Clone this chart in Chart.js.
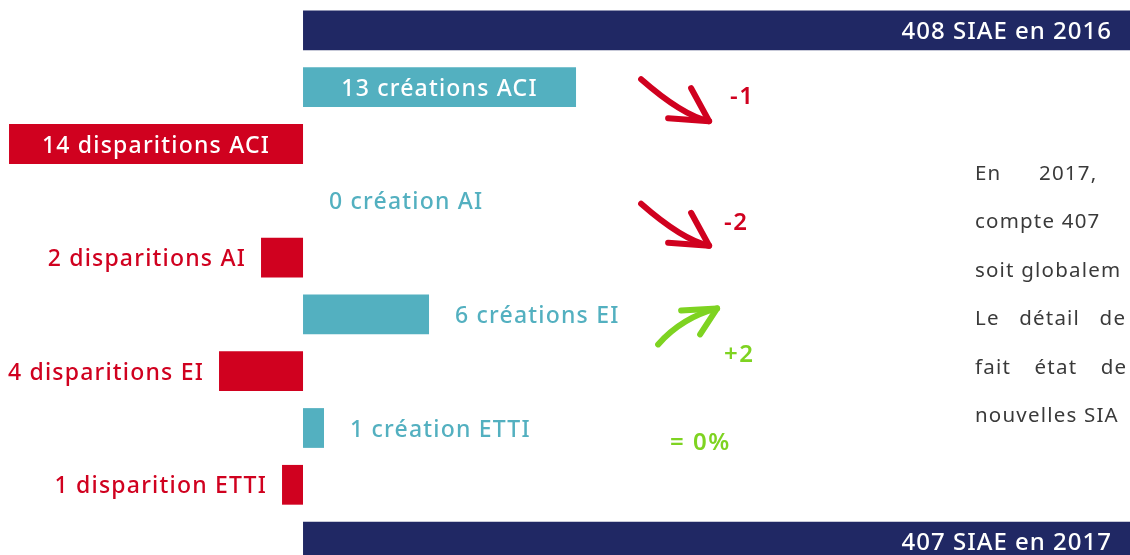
<!DOCTYPE html>
<html>
<head>
<meta charset="utf-8">
<script src="https://cdn.jsdelivr.net/npm/chart.js@4.4.0/dist/chart.umd.min.js"></script>
<style>
    html, body { margin: 0; padding: 0; background: #fff; overflow: hidden; width: 1130px; height: 555px; }
    #wrap { position: relative; width: 1130px; height: 570px; }
</style>
</head>
<body>
<div id="wrap"><canvas id="siaeChart" width="1130" height="570"></canvas></div>
<script>
// rows, top to bottom
const rows = ['2016', 'créations ACI', 'disparitions ACI', 'création AI', 'disparitions AI',
              'créations EI', 'disparitions EI', 'création ETTI', 'disparition ETTI', '2017'];
const values = [408, 13, -14, 0, -2, 6, -4, 1, -1, 407];
const barLabels = ['408 SIAE en 2016', '13 créations ACI', '14 disparitions ACI', '0 création AI',
                   '2 disparitions AI', '6 créations EI', '4 disparitions EI', '1 création ETTI',
                   '1 disparition ETTI', '407 SIAE en 2017'];
const kinds = ['total', 'creation', 'disparition', 'creation', 'disparition',
               'creation', 'disparition', 'creation', 'disparition', 'total'];
// net change per structure type
const changeLabels = ['-1', '-2', '+2', '= 0%'];
const changeTrend = ['down', 'down', 'up', 'flat'];
const paragraph = ['En 2017,', 'compte 407', 'soit globalem', 'Le détail de', 'fait état de', 'nouvelles SIA'];

const NAVY = '#202864';
const TEAL = '#53b0c0';
const RED = '#d0011f';
const GREEN = '#7ed321';
const colorFor = k => k === 'total' ? NAVY : (k === 'creation' ? TEAL : RED);

const labelsPlugin = {
    id: 'barLabels',
    afterDatasetsDraw(chart) {
        const ctx = chart.ctx;
        const meta = chart.getDatasetMeta(0);
        ctx.save();
        ctx.textBaseline = 'middle';
        meta.data.forEach((bar, i) => {
            const k = kinds[i];
            const txt = barLabels[i];
            const ty = bar.y + 2;
            if (k === 'total') {
                ctx.font = '500 24px "Noto Sans"';
                ctx.letterSpacing = '1px';
                ctx.fillStyle = '#fff';
                ctx.textAlign = 'right';
                ctx.fillText(txt, chart.chartArea.right - 18, ty);
                return;
            }
            ctx.font = '500 23px "Noto Sans"';
            ctx.letterSpacing = '1.2px';
            const w = ctx.measureText(txt).width;
            const barW = Math.abs(bar.x - bar.base);
            if (barW > w + 30) {
                ctx.fillStyle = '#fff';
                ctx.textAlign = 'center';
                ctx.fillText(txt, (bar.x + bar.base) / 2, ty);
            } else if (values[i] >= 0) {
                ctx.fillStyle = TEAL;
                ctx.textAlign = 'left';
                ctx.fillText(txt, bar.x + 26, ty);
            } else {
                ctx.fillStyle = RED;
                ctx.textAlign = 'right';
                ctx.fillText(txt, bar.x - 15, ty);
            }
        });
        ctx.restore();
    }
};

function drawArrow(ctx, ox, oy, pts, color) {
    ctx.save();
    ctx.strokeStyle = color;
    ctx.lineWidth = 6;
    ctx.lineCap = 'round';
    ctx.lineJoin = 'round';
    const [tail, ctrl, tip, b1, b2] = pts;
    ctx.beginPath();
    ctx.moveTo(ox + tail[0], oy + tail[1]);
    ctx.quadraticCurveTo(ox + ctrl[0], oy + ctrl[1], ox + tip[0], oy + tip[1]);
    ctx.stroke();
    ctx.beginPath();
    ctx.moveTo(ox + b1[0], oy + b1[1]);
    ctx.lineTo(ox + tip[0], oy + tip[1]);
    ctx.lineTo(ox + b2[0], oy + b2[1]);
    ctx.stroke();
    ctx.restore();
}

const summaryPlugin = {
    id: 'summary',
    afterDraw(chart) {
        const ctx = chart.ctx;
        const x = chart.scales.x, y = chart.scales.y;
        const col = x.getPixelForValue(16.1);
        const downShape = [[0, 0], [41, 36], [68, 42], [50, 9], [27, 39]];
        const upShape = [[0, 0], [24, -27], [59, -36], [23, -34], [42, -10]];
        // arrows + net change texts, anchored on the creation rows
        const anchors = [
            { row: 1, ay: -8, tx: 89, ty: 10 },
            { row: 3, ay: 3, tx: 83, ty: 22 },
            { row: 5, ay: 30, tx: 83, ty: 41 },
            { row: 7, ay: 0, tx: 29, ty: 15 }
        ];
        anchors.forEach((a, i) => {
            const cy = y.getPixelForValue(a.row);
            const trend = changeTrend[i];
            const color = trend === 'down' ? RED : GREEN;
            if (trend === 'down') drawArrow(ctx, col, cy + a.ay, downShape, color);
            if (trend === 'up') drawArrow(ctx, col + 17, cy + a.ay, upShape, color);
            ctx.save();
            ctx.font = '600 24px "Noto Sans"';
            ctx.letterSpacing = '1.5px';
            ctx.fillStyle = color;
            ctx.textAlign = 'left';
            ctx.textBaseline = 'middle';
            ctx.fillText(changeLabels[i], col + a.tx, cy + a.ty);
            ctx.restore();
        });

        // justified paragraph, cut by the right edge
        ctx.save();
        ctx.font = '400 20.5px "Noto Sans"';
        ctx.letterSpacing = '1.2px';
        ctx.fillStyle = '#3a3a3a';
        ctx.textBaseline = 'middle';
        ctx.textAlign = 'left';
        const extra = [31, 0, 0, 13, 17, 0];
        paragraph.forEach((line, i) => {
            let px = 975;
            const py = 174 + i * 48.5;
            line.split(' ').forEach(word => {
                ctx.fillText(word, px, py);
                px += ctx.measureText(word + ' ').width + extra[i];
            });
        });
        ctx.restore();
    }
};

new Chart(document.getElementById('siaeChart').getContext('2d'), {
    type: 'bar',
    data: {
        labels: rows,
        datasets: [{
            data: values,
            backgroundColor: kinds.map(colorFor),
            borderWidth: 0,
            barPercentage: 0.7,
            categoryPercentage: 1.0
        }]
    },
    options: {
        indexAxis: 'y',
        responsive: false,
        animation: false,
        layout: { padding: { top: 2 } },
        plugins: { legend: { display: false }, tooltip: { enabled: false } },
        scales: {
            x: { display: false, min: -14.43, max: 39.38 },
            y: { display: false, offset: true }
        }
    },
    plugins: [labelsPlugin, summaryPlugin]
});
</script>
</body>
</html>
